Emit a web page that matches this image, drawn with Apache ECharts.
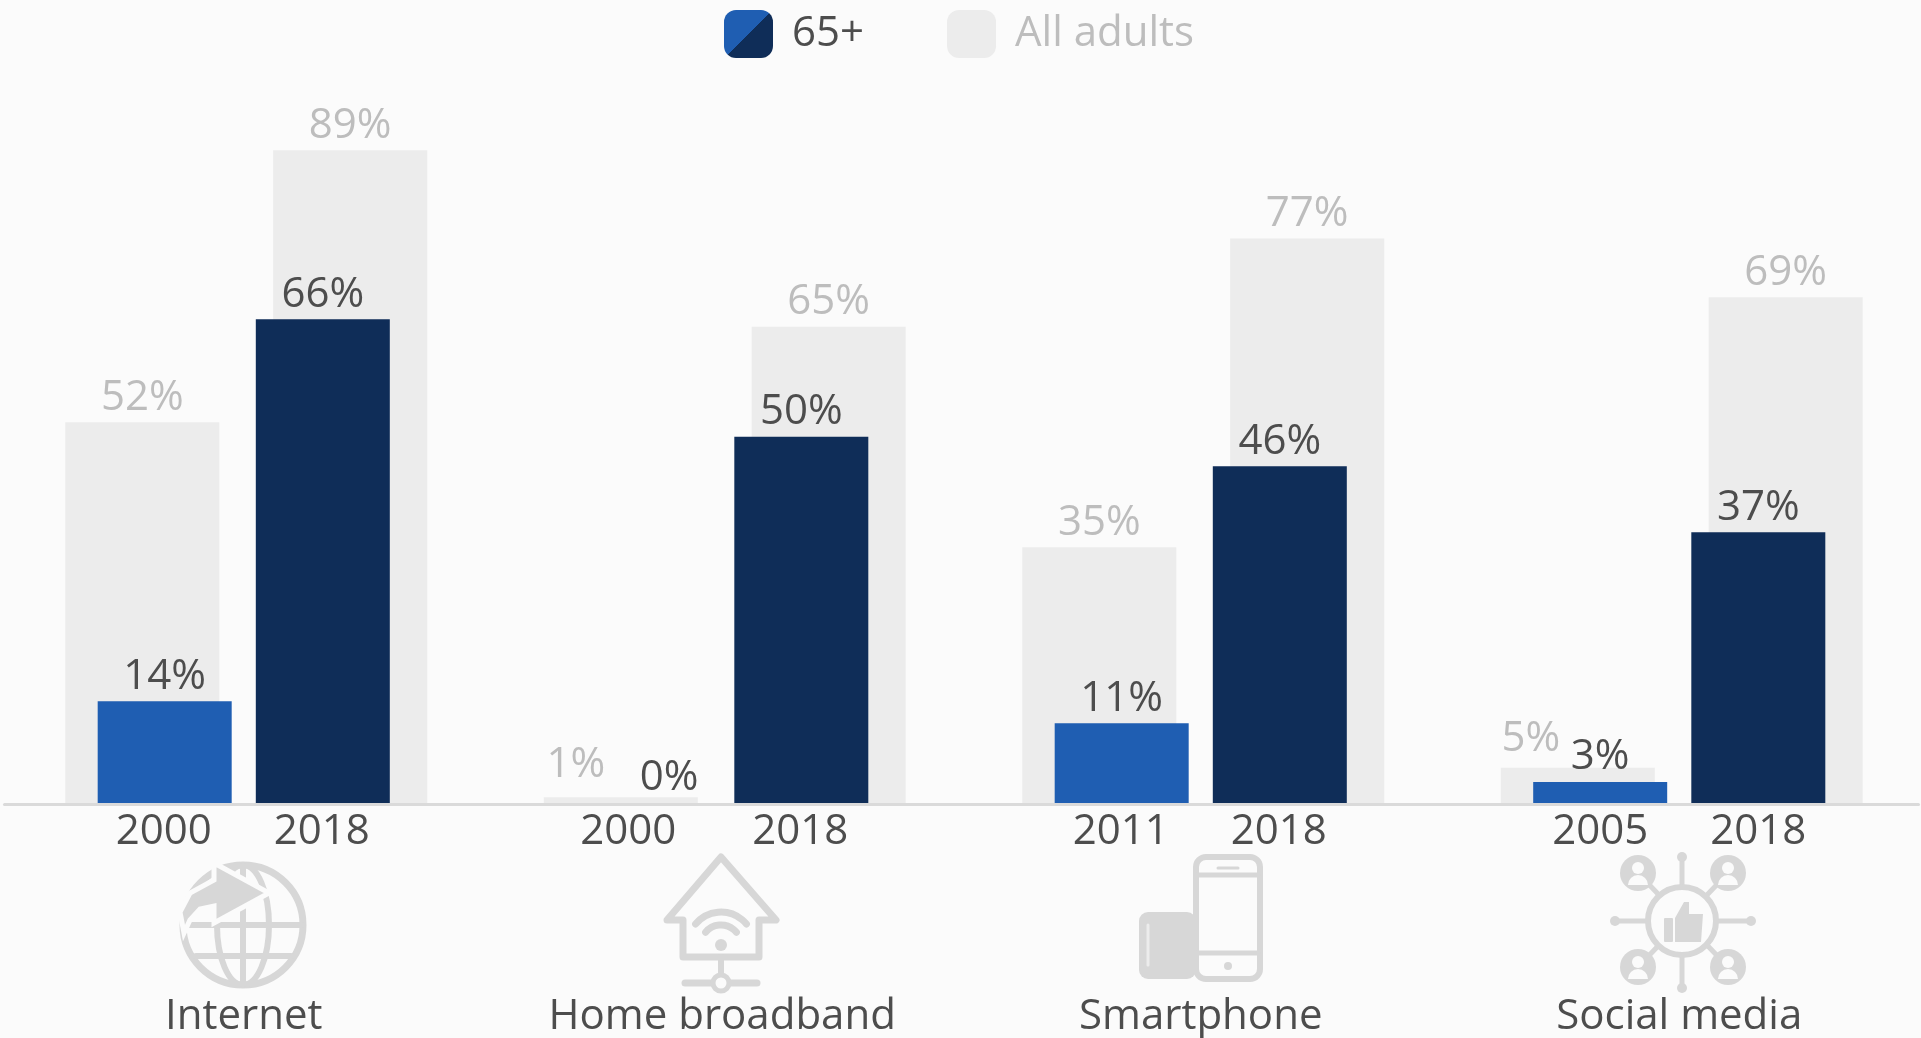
<!DOCTYPE html>
<html><head><meta charset="utf-8">
<style>html,body{margin:0;padding:0;background:#fbfbfb}#c{width:1921px;height:1038px}</style>
<script src="https://cdn.jsdelivr.net/npm/echarts@6/dist/echarts.min.js"></script>
</head><body><div id="c"></div>
<script>
const categories = ['Internet','Home broadband','Smartphone','Social media'];
const firstYears = ['2000','2000','2011','2005'];
const lastYears = ['2018','2018','2018','2018'];
const seniorsFirst = [14,0,11,3];
const seniorsLast = [66,50,46,37];
const adultsFirst = [52,1,35,5];
const adultsLast = [89,65,77,69];

const FONT = '"Open Sans", sans-serif';
const BLUE = '#1f5eb2', NAVY = '#0f2d58', GREY = '#ececec', ICON = '#d7d7d7', BG = '#fbfbfb';
const DARK = '#4d4d4d', LIGHT = '#bdbdbd';
const labelBase = {show:true, position:'top', distance:3.5, fontFamily:FONT, fontSize:42, formatter:'{c}%'};

const chart = echarts.init(document.getElementById('c'));

function adultsItems(arr, first){
  return arr.map(v=> first && v<=5
    ? {value:v, label:{offset:v===1 ? [-45,-8] : [-47,-4]}} : v);
}
function seniorItems(arr){
  return arr.map(v=> v===0 ? {value:v, label:{offset:[26,-1]}} : v);
}
function barSeries(name, data, axis, color, width, gap, labelColor){
  return {type:'bar', name, data, xAxisIndex:axis, yAxisIndex:axis,
    barWidth:width, barGap:gap, itemStyle:{color},
    label:Object.assign({},labelBase,{color:labelColor}), animation:false};
}

function circ(x,y,r,fill,stroke,lw){
  return {type:'circle', silent:true, z:1, shape:{cx:x,cy:y,r}, style:{fill:fill||'none',stroke:stroke||null,lineWidth:lw||0}};
}
function line(x1,y1,x2,y2,lw,col){
  return {type:'line', silent:true, z:1, shape:{x1,y1,x2,y2}, style:{stroke:col||ICON,lineWidth:lw||6,lineCap:'round'}};
}
function rr(x,y,w,h,r,fill,stroke,lw){
  return {type:'rect', silent:true, z:1, shape:{x,y,width:w,height:h,r}, style:{fill:fill||'none',stroke:stroke||null,lineWidth:lw||0}};
}
function arc(cx,cy,r,lw){
  return {type:'arc', silent:true, z:1, shape:{cx,cy,r,startAngle:-Math.PI*0.78,endAngle:-Math.PI*0.22}, style:{stroke:ICON,lineWidth:lw,fill:'none',lineCap:'round'}};
}
function polygon(points,fill,stroke,lw){
  return {type:'polygon', silent:true, z:1, shape:{points}, style:{fill:fill,stroke:stroke||null,lineWidth:lw||0}};
}
function poly(points,lw){
  return {type:'polyline', silent:true, z:1, shape:{points}, style:{stroke:ICON,lineWidth:lw,fill:'none',lineCap:'round',lineJoin:'round'}};
}
function person(x,y){
  return [circ(x,y,18,ICON), circ(x,y-5,6,BG),
    {type:'sector',silent:true,z:1,shape:{cx:x,cy:y+12,r:10,startAngle:Math.PI,endAngle:0},style:{fill:BG}}];
}

const icons = [
  // globe
  circ(243,925,60,null,ICON,7),
  {type:'ellipse',silent:true,z:1,shape:{cx:243,cy:925,rx:26,ry:60},style:{stroke:ICON,lineWidth:6,fill:'none'}},
  line(187,925,301,925,6), line(196,956,291,956,6), line(243,866,243,984,6),
  polygon([[214,863],[269,893],[214,923],[214,906],[200,909],[190,920],[184,933],[180,912],[190,893],[214,880]],ICON,BG,5),
  // house with wifi
  poly([[683,957],[683,920],[667,920],[721,857],[776,920],[759,920],[759,957],[683,957]],7),
  arc(721,945,33,7), arc(721,945,20,7), circ(721,945,6,ICON),
  line(721,957,721,976,6), line(685,983,757,983,7), circ(721,983,8,BG,ICON,5),
  // phones
  rr(1139,912,57,67,9,ICON),
  rr(1196,857,64,122,10,BG,ICON,6),
  line(1198,875,1258,875,5), line(1198,953,1258,953,5), line(1218,868,1238,868,3),
  circ(1228,966,4,ICON), line(1148,925,1148,965,3,'#ececec'),
  // social
  line(1682,857,1682,988,5), line(1615,921,1751,921,5),
  line(1638,873,1728,967,5), line(1728,873,1638,967,5),
  circ(1682,857,5,ICON), circ(1682,988,5,ICON), circ(1615,921,5,ICON), circ(1751,921,5,ICON),
  circ(1682,921,34,BG,ICON,6),
  rr(1664,918,9,24,1,ICON),
  polygon([[1675,918],[1684,902],[1689,902],[1689,914],[1703,914],[1701,942],[1675,942]],ICON)
].concat(person(1638,873),person(1728,873),person(1638,967),person(1728,967));

const option = {
  backgroundColor:BG,
  animation:false,
  textStyle:{fontFamily:FONT},
  legend:{
    left:719, top:5, itemWidth:49, itemHeight:48, itemGap:83, selectedMode:false,
    icon:'roundRect',
    data:[
      {name:'65+', itemStyle:{color:new echarts.graphic.LinearGradient(0,0,1,1,[
        {offset:0,color:BLUE},{offset:0.5,color:BLUE},{offset:0.5,color:NAVY},{offset:1,color:NAVY}])},
        textStyle:{color:DARK}},
      {name:'All adults', itemStyle:{color:GREY}, textStyle:{color:LIGHT}}
    ],
    textStyle:{fontFamily:FONT,fontSize:42,padding:[6,0,0,14]}
  },
  grid:[
    {left:7, width:1914, top:69.5, height:735},
    {left:4.5, width:1914, top:69.5, height:735}
  ],
  xAxis:[
    {type:'category', gridIndex:0, data:categories, axisTick:{show:false}, axisLabel:{show:false}, axisLine:{show:false}},
    {type:'category', gridIndex:1, data:categories, axisTick:{show:false},
     axisLine:{show:true, lineStyle:{color:'#dadada',width:3}},
     z:6,
     axisLabel:{show:true, margin:192, color:DARK, fontFamily:FONT, fontSize:42, interval:0}}
  ],
  yAxis:[
    {type:'value', gridIndex:0, min:0, max:100, show:false},
    {type:'value', gridIndex:1, min:0, max:100, show:false}
  ],
  graphic:{elements:icons},
  series:[
    barSeries('All adults', adultsItems(adultsFirst,true), 0, GREY, 154, '35%', LIGHT),
    barSeries('All adults', adultsItems(adultsLast,false), 0, GREY, 154, '35%', LIGHT),
    barSeries('65+', seniorItems(seniorsFirst), 1, BLUE, 134, '18%', DARK),
    barSeries('65+', seniorItems(seniorsLast), 1, NAVY, 134, '18%', DARK),
    {type:'custom', xAxisIndex:1, yAxisIndex:1, silent:true, clip:false, z:7, legendHoverLink:false,
     data:categories.map((c,i)=>[i,0]),
     encode:{x:0,y:1},
     renderItem:function(params,api){
       const p = api.coord([api.value(0),0]);
       const i = params.dataIndex;
       const t = (text,dx)=>({type:'text',style:{text,x:p[0]+dx,y:p[1]+28,align:'center',verticalAlign:'middle',
         fill:DARK,font:'42px '+FONT}});
       const lateShift = i===3 ? 1 : 0;
       return {type:'group',children:[t(firstYears[i], (i===1?-94:-80)+lateShift), t(lastYears[i], 78+lateShift)]};
     }}
  ]
};
chart.setOption(option);
</script></body></html>
